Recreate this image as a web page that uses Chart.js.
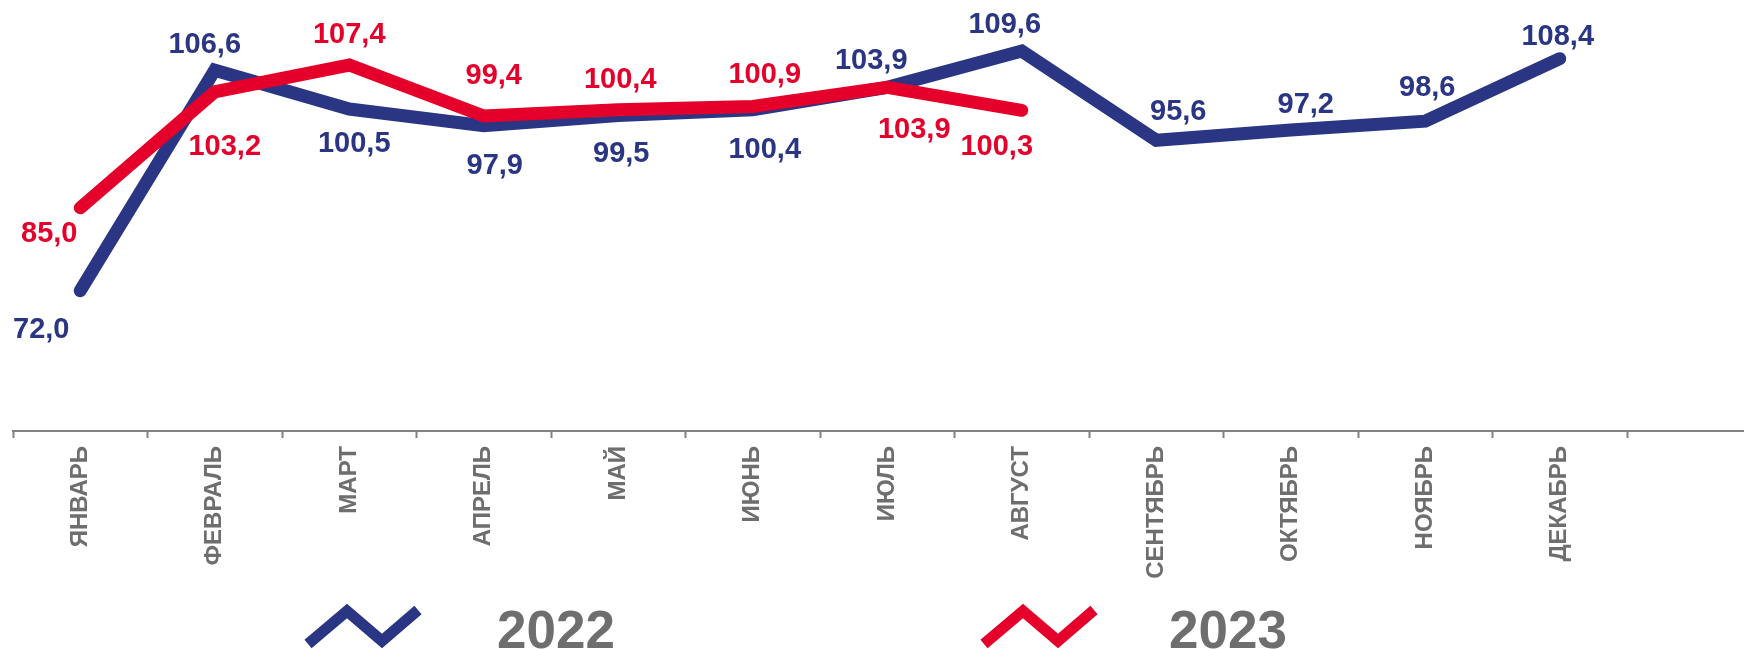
<!DOCTYPE html>
<html><head><meta charset="utf-8">
<script src="https://cdn.jsdelivr.net/npm/chart.js@4/dist/chart.umd.min.js"></script>
<style>html,body{margin:0;padding:0;background:#fff;overflow:hidden}canvas{display:block}</style>
</head><body>
<canvas id="c" width="1744" height="649"></canvas>
<script>
// ---- data ----
const months = ['ЯНВАРЬ','ФЕВРАЛЬ','МАРТ','АПРЕЛЬ','МАЙ','ИЮНЬ','ИЮЛЬ','АВГУСТ','СЕНТЯБРЬ','ОКТЯБРЬ','НОЯБРЬ','ДЕКАБРЬ'];
const seriesNames = ['2022', '2023'];
const values2022 = [72.0, 106.6, 100.5, 97.9, 99.5, 100.4, 103.9, 109.6, 95.6, 97.2, 98.6, 108.4];
const values2023 = [85.0, 103.2, 107.4, 99.4, 100.4, 100.9, 103.9, 100.3];

// ---- styling / label placement (px offsets of value labels from their points) ----
const BLUE = '#2a3583', RED = '#e4002b', GRAY_TXT = '#6e6e6e', GRAY_AX = '#808080';
const labelOffsets2022 = [[-39,39],[-10,-25],[5,35],[11,40],[3,39],[12,40],[-16,-26],[-17,-26],[22,-28],[15,-25],[2,-33],[-2,-22]];
const labelOffsets2023 = [[-31,26],[10,55],[0,-30],[10,-40],[2,-30],[12,-31],[27,43],[-25,37]];

const fmt = v => v.toFixed(1).replace('.', ',');

const valueLabels = {
  id: 'valueLabels',
  afterDatasetsDraw(chart) {
    const ctx = chart.ctx;
    ctx.save();
    ctx.font = 'bold 29px "Liberation Sans", Arial, sans-serif';
    ctx.textAlign = 'center';
    ctx.textBaseline = 'middle';
    chart.data.datasets.forEach((ds, di) => {
      const meta = chart.getDatasetMeta(di);
      ctx.fillStyle = ds.borderColor;
      meta.data.forEach((pt, i) => {
        const v = ds.data[i];
        if (v == null) return;
        const off = ds.labelOffsets[i] || [0, -25];
        ctx.fillText(fmt(v), pt.x + off[0], pt.y + off[1]);
      });
    });
    ctx.restore();
  }
};

const axisExtend = {
  id: 'axisExtend',
  afterDraw(chart) {
    const ctx = chart.ctx, xs = chart.scales.x;
    ctx.save();
    ctx.strokeStyle = GRAY_AX;
    ctx.lineWidth = 2;
    ctx.beginPath();
    ctx.moveTo(chart.chartArea.right, Math.round(xs.top));
    ctx.lineTo(chart.width, Math.round(xs.top));
    ctx.stroke();
    ctx.restore();
  }
};

const zigLegend = {
  id: 'zigLegend',
  afterDraw(chart) {
    const ctx = chart.ctx;
    const items = [{x: 312, tx: 497}, {x: 988, tx: 1169}];
    ctx.save();
    chart.data.datasets.forEach((ds, i) => {
      const it = items[i];
      ctx.strokeStyle = ds.borderColor;
      ctx.lineWidth = 11;
      ctx.lineJoin = 'miter';
      ctx.lineCap = 'butt';
      ctx.beginPath();
      ctx.moveTo(it.x - 4, 644);
      ctx.lineTo(it.x + 35, 611);
      ctx.lineTo(it.x + 70, 641);
      ctx.lineTo(it.x + 106, 610);
      ctx.stroke();
      ctx.fillStyle = GRAY_TXT;
      ctx.font = 'bold 53px "Liberation Sans", Arial, sans-serif';
      ctx.textAlign = 'left';
      ctx.textBaseline = 'alphabetic';
      ctx.fillText(ds.label, it.tx, 648);
    });
    ctx.restore();
  }
};

new Chart(document.getElementById('c'), {
  type: 'line',
  data: {
    labels: months,
    datasets: [
      { label: seriesNames[0], data: values2022, borderColor: BLUE, backgroundColor: BLUE,
        borderWidth: 13, order: 2, labelOffsets: labelOffsets2022 },
      { label: seriesNames[1], data: values2023, borderColor: RED, backgroundColor: RED,
        borderWidth: 13, order: 1, labelOffsets: labelOffsets2023 }
    ]
  },
  options: {
    responsive: false,
    animation: false,
    devicePixelRatio: 1,
    layout: { padding: { left: 13, right: 117, top: 0, bottom: 0 } },
    elements: {
      line: { tension: 0, borderCapStyle: 'round', borderJoinStyle: 'miter', fill: false },
      point: { radius: 0, hoverRadius: 0 }
    },
    datasets: { line: { clip: false, spanGaps: false } },
    plugins: { legend: { display: false }, tooltip: { enabled: false } },
    scales: {
      x: {
        offset: true,
        border: { display: true, color: GRAY_AX, width: 2 },
        grid: { drawOnChartArea: false, drawTicks: true, tickLength: 7, tickColor: GRAY_AX, tickWidth: 2, offset: true },
        ticks: {
          color: GRAY_TXT, padding: 8, minRotation: 90, maxRotation: 90, autoSkip: false,
          font: { family: '"Liberation Sans", Arial, sans-serif', size: 24, weight: 'bold' }
        },
        afterFit(scale) { scale.height = 218; }
      },
      y: { display: false, min: 50, max: 117.6 }
    }
  },
  plugins: [valueLabels, axisExtend, zigLegend]
});
</script>
</body></html>
